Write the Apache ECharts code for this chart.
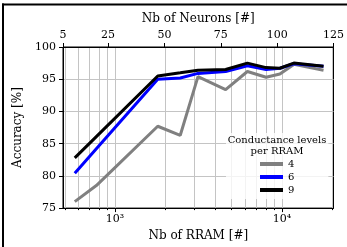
<!DOCTYPE html>
<html>
<head>
<meta charset="utf-8">
<script src="https://cdn.jsdelivr.net/npm/echarts@6/dist/echarts.min.js"></script>
<style>
html,body{margin:0;padding:0;background:#fff;}
#c{width:347px;height:247px;}
</style>
</head>
<body>
<div id="c"></div>
<script>
// Data
const rram = [574, 773, 1803, 2460, 3141, 4600, 6210, 8040, 9720, 11780, 17750];
const acc4 = [76.0, 78.5, 87.7, 86.3, 95.4, 93.4, 96.2, 95.3, 95.8, 97.3, 96.4];
const acc6 = [80.4, 84.2, 95.0, 95.2, 95.9, 96.2, 97.1, 96.5, 96.7, 97.4, 97.0];
const acc9 = [82.8, 86.1, 95.5, 96.0, 96.4, 96.5, 97.5, 96.8, 96.7, 97.5, 97.0];
const levels = ['4', '6', '9'];
const majorTicks = [1000, 10000];
const minorTicks = [500, 600, 700, 800, 900, 1000, 2000, 3000, 4000, 5000, 6000, 7000, 8000, 9000, 10000, 20000];
const neuronTicks = [5, 25, 50, 75, 100, 125];
const yTicks = [75, 80, 85, 90, 95, 100];

const FONT = 'DejaVu Serif';
const sup = {1000: '10³', 10000: '10⁴'};
function pairs(ys){ return rram.map((x,i)=>[x, ys[i]]); }

const chart = echarts.init(document.getElementById('c'), null, {renderer:'canvas'});
chart.setOption({
  animation: false,
  textStyle: {fontFamily: FONT, color: '#000'},
  grid: {left: 63, right: 10, top: 47, bottom: 38, show: true, borderColor: '#000', borderWidth: 1, backgroundColor: 'transparent'},
  title: {
    text: 'Conductance levels\nper RRAM',
    left: 277, top: 135, textAlign: 'center',
    textStyle: {fontFamily: FONT, fontSize: 10, fontWeight: 'normal', color: '#000', lineHeight: 11},
    padding: 0, z: 10
  },
  legend: {
    data: levels,
    orient: 'vertical',
    left: 226, top: 133,
    padding: [26, 34, 4, 34],
    itemWidth: 23, itemHeight: 4, itemGap: 3,
    icon: 'rect',
    backgroundColor: 'rgba(255,255,255,0.8)',
    textStyle: {fontFamily: FONT, fontSize: 10, color: '#000'}
  },
  xAxis: [
    {
      type: 'log', logBase: 10, min: 488, max: 20370, position: 'bottom',
      name: 'Nb of RRAM [#]', nameLocation: 'middle', nameGap: 19,
      nameTextStyle: {fontFamily: FONT, fontSize: 12, color: '#000'},
      axisLine: {show: true, lineStyle: {color: '#000', width: 1}},
      axisTick: {show: true, inside: false, length: 4, customValues: majorTicks, lineStyle: {color: '#000'}},
      axisLabel: {show: true, customValues: majorTicks, margin: 6, fontFamily: FONT, fontSize: 11, color: '#000',
        formatter: v => sup[Math.round(v)] || ''},
      splitLine: {show: false}
    },
    {
      type: 'log', logBase: 10, min: 488, max: 20370, position: 'bottom',
      axisLine: {show: false},
      axisTick: {show: true, length: 2, customValues: minorTicks, lineStyle: {color: '#000'}},
      axisLabel: {show: false},
      splitLine: {show: true, customValues: minorTicks, lineStyle: {color: '#c4c4c4', width: 1}}
    },
    {
      type: 'value', min: 5, max: 125, position: 'top',
      name: 'Nb of Neurons [#]', nameLocation: 'middle', nameGap: 16,
      nameTextStyle: {fontFamily: FONT, fontSize: 12, color: '#000'},
      axisLine: {show: true, lineStyle: {color: '#000', width: 1}},
      axisTick: {show: true, length: 4, customValues: neuronTicks, lineStyle: {color: '#000'}},
      axisLabel: {show: true, customValues: neuronTicks, margin: 6, fontFamily: FONT, fontSize: 11, color: '#000'},
      splitLine: {show: false}
    }
  ],
  yAxis: [
    {
      type: 'value', min: 75, max: 100, interval: 5,
      name: 'Accuracy [%]', nameLocation: 'middle', nameGap: 29,
      nameTextStyle: {fontFamily: FONT, fontSize: 12, color: '#000'},
      axisLine: {show: true, lineStyle: {color: '#000', width: 1}},
      axisTick: {show: true, length: 4, lineStyle: {color: '#000'}},
      axisLabel: {margin: 7, fontFamily: FONT, fontSize: 11, color: '#000'},
      splitLine: {show: true, lineStyle: {color: '#c4c4c4', width: 1}}
    }
  ],
  series: [
    {name: '4', type: 'line', xAxisIndex: 0, data: pairs(acc4), symbol: 'none', color: '#808080', lineStyle: {width: 3, color: '#808080'}, z: 3},
    {name: '6', type: 'line', xAxisIndex: 0, data: pairs(acc6), symbol: 'none', color: '#0000ff', lineStyle: {width: 3, color: '#0000ff'}, z: 4},
    {name: '9', type: 'line', xAxisIndex: 0, data: pairs(acc9), symbol: 'none', color: '#000000', lineStyle: {width: 3, color: '#000000'}, z: 5}
  ],
  graphic: [
    {type: 'rect', shape: {x: 2, y: 3.5, width: 345, height: 2}, style: {fill: '#000'}, silent: true},
    {type: 'rect', shape: {x: 2, y: 3.5, width: 2, height: 244}, style: {fill: '#000'}, silent: true}
  ]
});
</script>
</body>
</html>
